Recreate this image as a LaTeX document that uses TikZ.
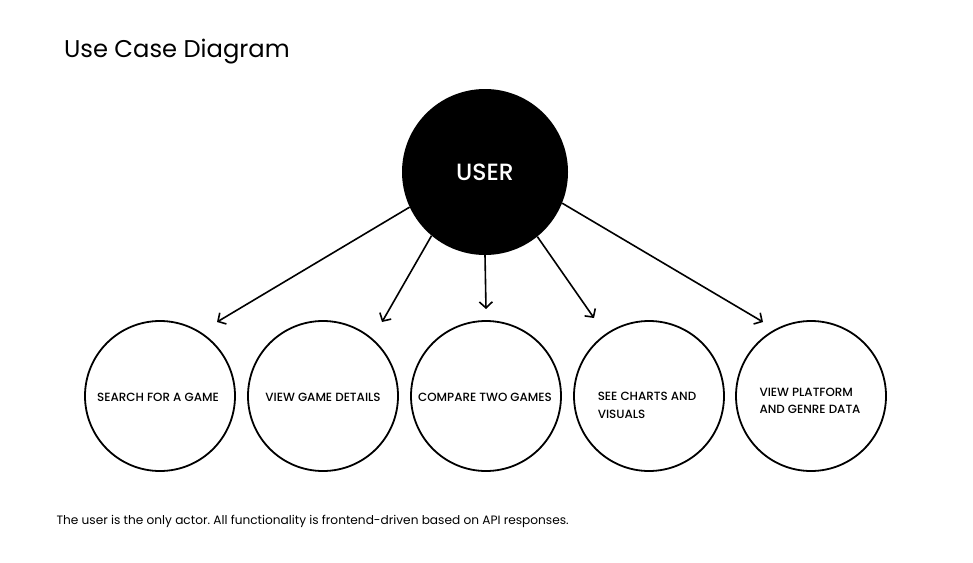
\documentclass[tikz,border=0pt]{standalone}
\usepackage{fontspec}
\setmainfont{Poppins}
\newfontfamily\popmed{Poppins Medium}
\usetikzlibrary{arrows.meta}
\begin{document}
\frenchspacing
\begin{tikzpicture}[x=1pt,y=-1pt,
  uc/.style={circle,draw=black,line width=1.8pt,minimum size=150pt,inner sep=0pt},
  uclabel/.style={font=\popmed\fontsize{11.9}{17.5}\selectfont,align=left,inner sep=0pt},
  conn/.style={line width=1.6pt,-{Straight Barb[length=6pt,width=13pt,line width=1.6pt]}}]
\useasboundingbox[fill=white] (0,0) rectangle (973,562);
\node[anchor=base west,font=\fontsize{24.2}{28}\selectfont] (title) at (60.5,57) {Use Case Diagram};
\node[circle,fill=black,minimum size=166pt,inner sep=0pt] (user) at (485,172) {};
\node[text=white,font=\popmed\fontsize{23.5}{28}\selectfont] (usertxt) at (485,172) {USER};
\node[uc] (c1) at (160,396) {};
\node[uc] (c2) at (323,396) {};
\node[uc] (c3) at (486,396) {};
\node[uc] (c4) at (649,396) {};
\node[uc] (c5) at (811,396) {};
\node[uclabel] (t1) at (158,397) {SEARCH FOR A GAME};
\node[uclabel] (t2) at (323,397) {VIEW GAME DETAILS};
\node[uclabel] (t3) at (485,397) {COMPARE TWO GAMES};
\node[uclabel] (t4) at (647,405.5) {SEE CHARTS AND\\VISUALS};
\node[uclabel] (t5) at (810,401) {VIEW PLATFORM\\AND GENRE DATA};
\coordinate (e1) at (217,322);
\coordinate (e2) at (382,322);
\coordinate (e3) at (486,309);
\coordinate (e4) at (594,318);
\coordinate (e5) at (763,322);
\draw[conn] (user.205.6) -- (e1);
\draw[conn] (user.230.4) -- (e2);
\draw[conn] (user.270) -- (e3);
\draw[conn] (user.309.2) -- (e4);
\draw[conn] (user.338) -- (e5);
\node[anchor=base west,font=\fontsize{12.15}{14}\selectfont] (note) at (53,524) {The user is the only actor. All functionality is frontend-driven based on API responses.};
\end{tikzpicture}
\end{document}
